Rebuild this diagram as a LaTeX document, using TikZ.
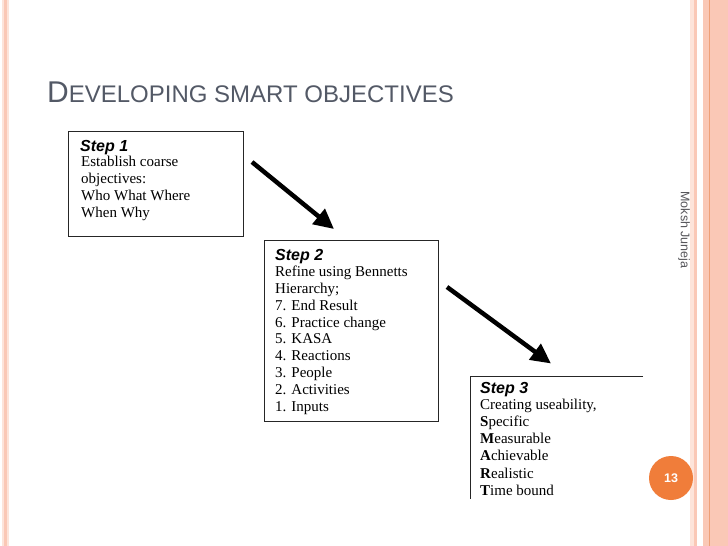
\documentclass[tikz,border=0pt]{standalone}
\usepackage{fontspec}
\setmainfont{Liberation Serif}
\setsansfont{Liberation Sans}
\usetikzlibrary{arrows.meta}
\definecolor{titlegray}{RGB}{83,89,102}
\definecolor{stripe}{RGB}{250,200,182}
\definecolor{stripelight}{RGB}{253,228,218}
\definecolor{stripedark}{RGB}{238,160,120}
\definecolor{pageorange}{RGB}{240,125,58}
\definecolor{authgray}{RGB}{85,85,90}
\tikzset{
  stepbox/.style={draw=black!85, line width=0.9pt, anchor=north west, inner sep=0pt},
  steplabel/.style={anchor=base west, inner sep=0pt, font=\sffamily\bfseries\itshape\fontsize{16}{16}\selectfont},
  steptext/.style={anchor=base west, inner sep=0pt, align=left, font=\fontsize{15}{16.8}\selectfont},
  bigarrow/.style={line width=4.5pt, -{Triangle[length=20pt,width=19pt]}}
}
\begin{document}
\begin{tikzpicture}[x=1pt,y=-1pt]
\useasboundingbox (0,0) rectangle (728,546);
\fill[white] (0,0) rectangle (728,546);
% side stripes
\fill[stripelight] (2,0) rectangle (9,546);
\fill[stripe] (4,0) rectangle (7,546);
\fill[stripelight] (690,0) rectangle (697,546);
\fill[stripe] (694,0) rectangle (696.5,546);
\fill[stripe] (703,0) rectangle (728,546);
\fill[stripedark] (708.5,0) rectangle (710,546);
% title
\node[anchor=base west, inner sep=0pt, text=titlegray, font=\sffamily] (title) at (47,102)
  {{\fontsize{30}{30}\selectfont D}{\fontsize{24}{24}\selectfont EVELOPING SMART OBJECTIVES}};
% boxes
\node[stepbox, minimum width=175pt, minimum height=105pt] (b1) at (68,131) {};
\node[stepbox, minimum width=174pt, minimum height=181pt] (b2) at (264,239.5) {};
\coordinate (b3tr) at (643,376);
\coordinate (b3tl) at (470,376);
\coordinate (b3bl) at (470,499);
\draw[draw=black!85, line width=0.9pt] (b3tr) -- (b3tl) -- (b3bl);
% texts (base anchor = baseline of last line)
\node[steplabel] (s1) at (80,151) {Step 1};
\node[steptext] (t1) at (81,217.1) {Establish coarse\\objectives:\\Who What Where\\When Why};
\node[steplabel] (s2) at (275,260) {Step 2};
\node[steptext] (t2) at (275,411.1) {Refine using Bennetts\\Hierarchy;\\7. End Result\\6. Practice change\\5. KASA\\4. Reactions\\3. People\\2. Activities\\1. Inputs};
\node[steplabel] (s3) at (480,393) {Step 3};
\node[steptext, font=\fontsize{15}{17.2}\selectfont] (t3) at (480,495.3) {Creating useability,\\\textbf{S}pecific\\\textbf{M}easurable\\\textbf{A}chievable\\\textbf{R}ealistic\\\textbf{T}ime bound};
% arrows
\coordinate (a1s) at (252,162);
\coordinate (a1e) at (334,229);
\coordinate (a2s) at (447,287);
\coordinate (a2e) at (551,363.5);
\draw[bigarrow] (a1s) -- (a1e);
\draw[bigarrow] (a2s) -- (a2e);
% author
\node[rotate=-90, inner sep=0pt, text=authgray, font=\sffamily\fontsize{12.5}{12.5}\selectfont] (auth) at (684,230) {Moksh Juneja};
% page number
\node[circle, fill=pageorange, minimum size=44pt, inner sep=0pt, text=white, font=\sffamily\bfseries\fontsize{12.5}{12.5}\selectfont] (pg) at (671,478) {13};
\end{tikzpicture}
\end{document}
